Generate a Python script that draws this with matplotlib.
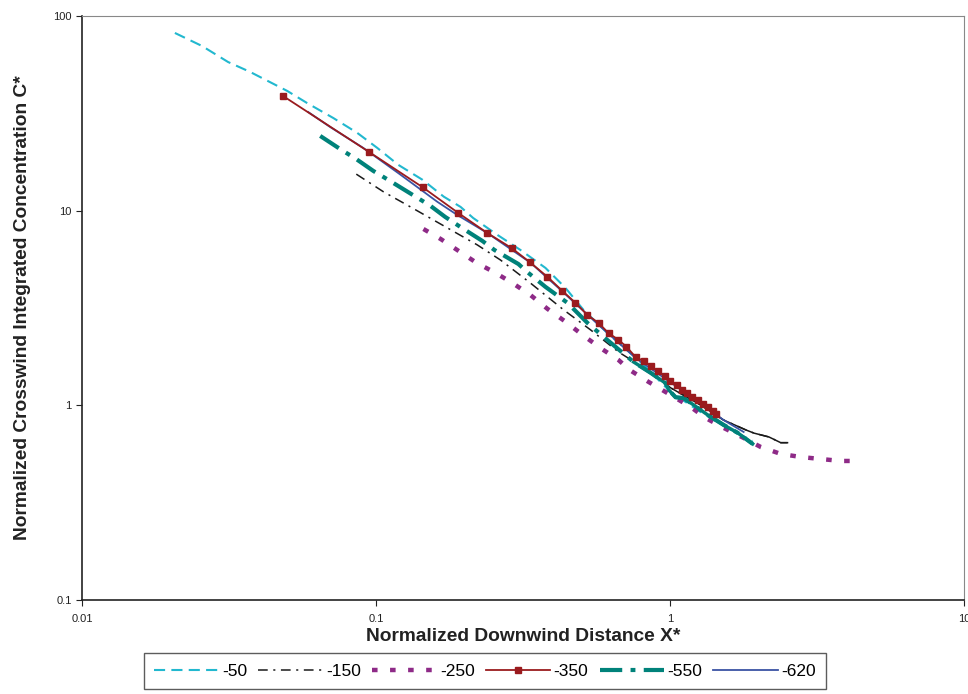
import matplotlib
matplotlib.use("Agg")
import matplotlib.pyplot as plt

plt.rcParams["font.family"] = ["Liberation Sans", "DejaVu Sans"]
plt.rcParams["lines.scale_dashes"] = False

# -50
x_50 = [0.0207, 0.0256, 0.0314, 0.0373, 0.0499, 0.0583, 0.0716, 0.0863, 0.101, 0.119,
        0.144, 0.170, 0.194, 0.214, 0.259, 0.310, 0.377, 0.441, 0.508, 0.613,
        0.794, 1.005, 1.27, 1.61, 1.91]
y_50 = [81.8, 70.1, 58.0, 51.6, 41.2, 35.7, 29.9, 25.1, 21.0, 17.2,
        14.4, 11.8, 10.45, 9.17, 7.50, 6.28, 5.08, 4.01, 3.09, 2.35,
        1.67, 1.17, 0.925, 0.748, 0.657]

# -150
x_150 = [0.0857, 0.106, 0.131, 0.175, 0.221, 0.265, 0.335, 0.435, 0.537, 0.668,
         0.859, 1.005, 1.27, 1.52, 1.81, 1.93, 2.17, 2.38, 2.51]
y_150 = [15.4, 12.5, 10.45, 8.15, 6.67, 5.58, 4.25, 3.09, 2.44, 1.88,
         1.48, 1.23, 1.005, 0.841, 0.748, 0.72, 0.688, 0.643, 0.643]

# -250
x_250 = [0.145, 0.166, 0.191, 0.220, 0.255, 0.291, 0.335, 0.383, 0.438, 0.504,
         0.580, 0.668, 0.729, 0.845, 1.005, 1.175, 1.322, 1.522, 1.781, 2.035,
         2.38, 2.78, 3.26, 3.81, 4.19]
y_250 = [8.05, 7.15, 6.21, 5.39, 4.79, 4.25, 3.69, 3.13, 2.71, 2.30,
         1.97, 1.71, 1.52, 1.32, 1.13, 0.981, 0.861, 0.766, 0.680, 0.611,
         0.563, 0.543, 0.530, 0.518, 0.518]

# -350
x_350 = [0.0483, 0.0948, 0.144, 0.1905, 0.239, 0.289, 0.333, 0.383, 0.4305, 0.477,
         0.524, 0.5715, 0.618, 0.668, 0.711, 0.764, 0.813, 0.859, 0.908, 0.958,
         0.997, 1.053, 1.095, 1.139, 1.184, 1.241, 1.291, 1.343, 1.396, 1.43]
y_350 = [38.8, 20.0, 13.2, 9.73, 7.68, 6.43, 5.45, 4.57, 3.87, 3.36,
         2.91, 2.65, 2.35, 2.17, 2.00, 1.77, 1.69, 1.59, 1.50, 1.42,
         1.33, 1.27, 1.20, 1.16, 1.10, 1.07, 1.02, 0.981, 0.936, 0.903]

# -550
x_550 = [0.0646, 0.0756, 0.0857, 0.0979, 0.110, 0.153, 0.172, 0.1936, 0.230, 0.2528,
         0.305, 0.327, 0.377, 0.448, 0.524, 0.594, 0.752, 0.859, 0.966, 0.990,
         1.045, 1.112, 1.203, 1.343, 1.522, 1.70, 1.91]
y_550 = [24.2, 20.7, 18.4, 16.0, 14.4, 10.6, 9.28, 8.25, 6.99, 6.28,
         5.32, 4.84, 4.06, 3.36, 2.65, 2.25, 1.67, 1.47, 1.30, 1.20,
         1.10, 1.09, 1.005, 0.893, 0.793, 0.722, 0.634]

# -620
x_620 = [0.0588, 0.0698, 0.0905, 0.119, 0.1617, 0.189, 0.239, 0.336, 0.430, 0.5715,
         0.764, 0.997, 1.27, 1.52, 1.78]
y_620 = [32.1, 26.9, 21.0, 15.6, 11.1, 9.5, 7.68, 5.39, 3.85, 2.59,
         1.75, 1.32, 1.03, 0.841, 0.730]

fig = plt.figure(figsize=(9.68, 6.94), dpi=100)
ax = fig.add_axes([0.0847, 0.1354, 0.9112, 0.8416])

c_cyan = "#22B8CF"
c_black = "#1a1a1a"
c_purple = "#8E2A87"
c_red = "#9A1B1E"
c_teal = "#00827A"
c_blue = "#3A53A4"

ax.plot(x_50, y_50, color=c_cyan, lw=1.5, dashes=(8, 4.5), label="-50")
ax.plot(x_150, y_150, color=c_black, lw=1.1, dashes=(7, 4, 1.5, 4), label="-150")
ax.plot(x_150[10:], y_150[10:], color=c_black, lw=1.1)
ax.plot(x_250, y_250, color=c_purple, lw=3.2, dashes=(4, 9), label="-250")
ax.plot(x_620, y_620, color=c_blue, lw=1.3, label="-620", zorder=3)
ax.plot(x_350, y_350, color=c_red, lw=1.3, marker="s", ms=5, mec=c_red, label="-350", zorder=4)
ax.plot(x_550, y_550, color=c_teal, lw=3, dashes=(16, 6, 3.5, 6), label="-550", zorder=3.5)
ax.plot(x_550[16:], y_550[16:], color=c_teal, lw=2.5, zorder=3.5)

ax.set_xscale("log")
ax.set_yscale("log")
ax.set_xlim(0.01, 10)
ax.set_ylim(0.1, 100)
ax.set_xticks([0.01, 0.1, 1, 10])
ax.set_xticklabels(["0.01", "0.1", "1", "10"])
ax.set_yticks([0.1, 1, 10, 100])
ax.set_yticklabels(["0.1", "1", "10", "100"])
ax.minorticks_off()
ax.tick_params(direction="out", length=4, labelsize=8, colors="#222222")
ax.tick_params(axis="x", pad=6)
for s in ["top", "right"]:
    ax.spines[s].set_color("#888888")
for s in ["left", "bottom"]:
    ax.spines[s].set_color("#222222")
    ax.spines[s].set_linewidth(1.2)

ax.set_xlabel("Normalized Downwind Distance X*", fontsize=13.8, fontweight="bold",
              color="#222222", labelpad=3)
ax.set_ylabel("Normalized Crosswind Integrated Concentration C*", fontsize=13.8,
              fontweight="bold", color="#222222", labelpad=16)

h, l = ax.get_legend_handles_labels()
order = ["-50", "-150", "-250", "-350", "-550", "-620"]
hd = dict(zip(l, h))
leg = fig.legend([hd[k] for k in order], order, loc="lower center",
                 bbox_to_anchor=(0.501, -0.006), ncol=6, fontsize=12.5, frameon=True,
                 fancybox=False, edgecolor="#333333", handlelength=3.7,
                 columnspacing=0.65, handletextpad=0.2, borderpad=0.6)
leg.get_frame().set_linewidth(1.0)

fig.savefig("out.png", dpi=100)
